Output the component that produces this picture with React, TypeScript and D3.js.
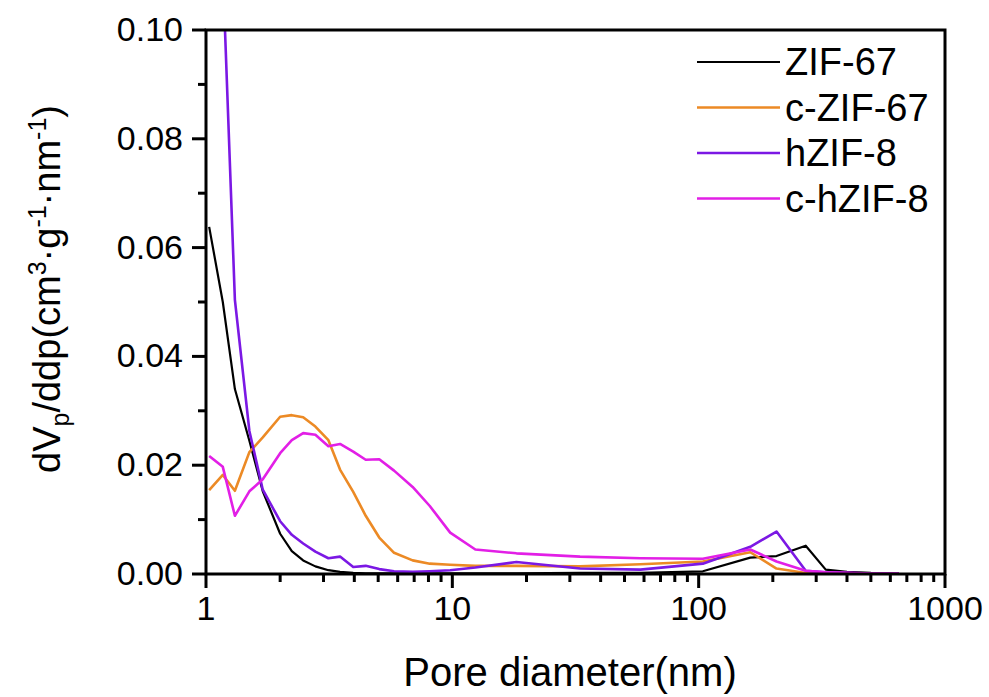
import React from "react";
import * as d3 from "d3";

const poreDiameter = [1.03, 1.17, 1.31, 1.5, 1.7, 2.0, 2.23, 2.48, 2.78, 3.14, 3.5, 3.96, 4.45, 5.05, 5.8, 6.9, 8.1, 9.8, 12.4, 18.2, 33, 58, 104, 162, 207, 272, 328, 400, 500, 650];

const zif67 = [0.0638, 0.05, 0.034, 0.0245, 0.0152, 0.0074, 0.0042, 0.0025, 0.0014, 0.0007, 0.0004, 0.0002, 0.0001, 0.0001, 0.0001, 0.0001, 0.0001, 0.0001, 0.0001, 0.0001, 0.0002, 0.0002, 0.0005, 0.003, 0.0033, 0.0052, 0.0008, 0.0004, 0.0002, 0.0001];
const cZif67 = [0.0154, 0.0182, 0.0153, 0.0224, 0.0251, 0.0289, 0.0292, 0.0288, 0.0271, 0.0246, 0.0192, 0.0151, 0.0107, 0.0067, 0.0039, 0.0025, 0.0019, 0.0017, 0.0015, 0.0015, 0.0014, 0.0018, 0.0023, 0.004, 0.001, 0.0002, 0.0001, 0.0001, 0.0001, 0.0001];
const hZif8 = [0.2, 0.111, 0.0504, 0.0263, 0.0155, 0.0097, 0.0072, 0.0056, 0.0041, 0.0029, 0.0032, 0.0013, 0.0015, 0.0009, 0.0005, 0.0004, 0.0005, 0.0007, 0.0012, 0.0022, 0.001, 0.0008, 0.0019, 0.005, 0.0078, 0.0006, 0.0003, 0.0002, 0.0001, 0.0001];
const cHZif8 = [0.0217, 0.0197, 0.0107, 0.0152, 0.0174, 0.0222, 0.0246, 0.0259, 0.0256, 0.0235, 0.0239, 0.0225, 0.021, 0.0211, 0.019, 0.016, 0.0125, 0.0076, 0.0045, 0.0038, 0.0032, 0.0029, 0.0028, 0.0045, 0.0023, 0.0006, 0.0003, 0.0002, 0.0001, 0.0001];

const seriesNames = ["ZIF-67", "c-ZIF-67", "hZIF-8", "c-hZIF-8"];
const seriesColors = ["#000000", "#EC8A25", "#7B18E4", "#E21FE6"];
const seriesWidths = [2.2, 2.6, 2.6, 2.6];
const seriesValues = [zif67, cZif67, hZif8, cHZif8];

const yTicks = [0, 0.02, 0.04, 0.06, 0.08, 0.1];
const yMinor = [0.01, 0.03, 0.05, 0.07, 0.09];
const xTicks = [1, 10, 100, 1000];

export default function App() {
  const W = 989, H = 697;
  const left = 206, right = 945, top = 30, bottom = 574;
  const x = d3.scaleLog().domain([1, 1000]).range([left, right]);
  const y = d3.scaleLinear().domain([0, 0.1]).range([bottom, top]);
  const xMinor: number[] = [];
  for (const dec of [1, 10, 100]) for (let k = 2; k <= 9; k++) xMinor.push(dec * k);
  const line = d3.line<[number, number]>().x(d => x(d[0])).y(d => y(d[1]));
  const font = "'Liberation Sans', Arial, sans-serif";

  return (
    <svg width={W} height={H} style={{ position: "absolute", left: 0, top: 0, background: "#fff" }} fontFamily={font}>
      <defs>
        <clipPath id="plotclip">
          <rect x={left} y={top} width={right - left} height={bottom - top} />
        </clipPath>
      </defs>
      <g clipPath="url(#plotclip)">
        {seriesValues.map((vals, i) => (
          <path key={i} d={line(poreDiameter.map((p, j) => [p, vals[j]] as [number, number])) || ""}
            fill="none" stroke={seriesColors[i]} strokeWidth={seriesWidths[i]} strokeLinejoin="round" />
        ))}
      </g>
      {/* frame */}
      <rect x={left} y={top} width={right - left} height={bottom - top} fill="none" stroke="#000" strokeWidth={3} />
      {/* y ticks */}
      {yTicks.map(t => (
        <g key={"y" + t}>
          <line x1={left - 14} x2={left} y1={y(t)} y2={y(t)} stroke="#000" strokeWidth={3} />
          <text x={183} y={y(t) + 11} fontSize={34} textAnchor="end">{t.toFixed(2)}</text>
        </g>
      ))}
      {yMinor.map(t => (
        <line key={"ym" + t} x1={left - 8} x2={left} y1={y(t)} y2={y(t)} stroke="#000" strokeWidth={3} />
      ))}
      {/* x ticks */}
      {xTicks.map(t => (
        <g key={"x" + t}>
          <line x1={x(t)} x2={x(t)} y1={bottom} y2={bottom + 14} stroke="#000" strokeWidth={3} />
          <text x={x(t)} y={620} fontSize={34} textAnchor="middle">{t}</text>
        </g>
      ))}
      {xMinor.map(t => (
        <line key={"xm" + t} x1={x(t)} x2={x(t)} y1={bottom} y2={bottom + 8} stroke="#000" strokeWidth={3} />
      ))}
      {/* axis titles */}
      <text x={570} y={686} fontSize={40} textAnchor="middle">Pore diameter(nm)</text>
      <text transform={`translate(60, ${(top + bottom) / 2 - 13}) rotate(-90)`} fontSize={38} textAnchor="middle">
        dV<tspan fontSize={25} dy={9}>p</tspan>
        <tspan dy={-9}>/ddp(cm</tspan>
        <tspan fontSize={25} dy={-14}>3</tspan>
        <tspan dy={14}>·g</tspan>
        <tspan fontSize={25} dy={-14}>-1</tspan>
        <tspan dy={14}>·nm</tspan>
        <tspan fontSize={25} dy={-14}>-1</tspan>
        <tspan dy={14}>)</tspan>
      </text>
      {/* legend */}
      {seriesNames.map((n, i) => {
        const ly = 62 + i * 45.5;
        return (
          <g key={n}>
            <line x1={697} x2={780} y1={ly} y2={ly} stroke={seriesColors[i]} strokeWidth={seriesWidths[i]} />
            <text x={785} y={ly + 13} fontSize={38}>{n}</text>
          </g>
        );
      })}
    </svg>
  );
}
